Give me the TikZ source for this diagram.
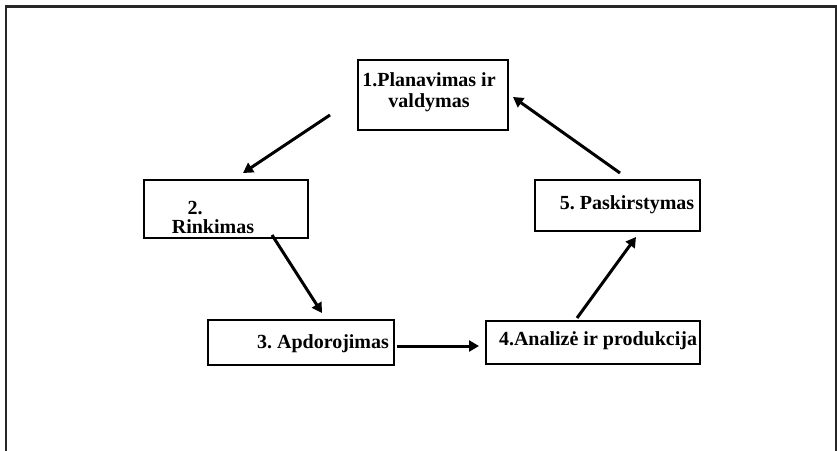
\documentclass[tikz,border=0pt]{standalone}
\usepackage{fontspec}
\setmainfont{Liberation Serif}
\usetikzlibrary{arrows.meta}
\begin{document}
\begin{tikzpicture}[x=1pt,y=-1pt,
  box/.style={draw=black,line width=1.6pt,inner sep=0pt,anchor=north west},
  lbl/.style={font=\fontsize{20}{20.5}\selectfont\bfseries\frenchspacing,inner sep=0pt,align=center},
  arr/.style={line width=3pt,-{Triangle[length=10pt,width=11pt]}}]
\useasboundingbox (0,0) rectangle (837,450);
\draw[line width=2.2pt,draw=black!85] (6,452) -- (6,6.5) -- (836,6.5) -- (836,452);
% boxes
\node[box,minimum width=150pt,minimum height=70pt] (b1) at (357,59) {};
\node[box,minimum width=164pt,minimum height=58pt] (b2) at (143,179) {};
\node[box,minimum width=186pt,minimum height=45pt] (b3) at (207,319) {};
\node[box,minimum width=214pt,minimum height=43pt] (b4) at (485,320) {};
\node[box,minimum width=165pt,minimum height=51pt] (b5) at (534,179) {};
% labels
\node[lbl] (t1) at (429,92) {1.Planavimas ir\\valdymas};
\node[lbl] (t2a) at (195,208) {2.};
\node[lbl] (t2b) at (213,227) {Rinkimas};
\node[lbl] (t3) at (323,344) {3. Apdorojimas};
\node[lbl] (t4) at (598,341) {4.Analizė ir produkcija};
\node[lbl] (t5) at (627,205) {5. Paskirstymas};
% arrow ends
\coordinate (a1s) at (330,115); \coordinate (a1e) at (243,173);
\coordinate (a2s) at (272,235); \coordinate (a2e) at (322,313);
\coordinate (a3s) at (397,346); \coordinate (a3e) at (479,346);
\coordinate (a4s) at (577,318); \coordinate (a4e) at (636,237);
\coordinate (a5s) at (620,173); \coordinate (a5e) at (513,97);
\draw[arr] (a1s) -- (a1e);
\draw[arr] (a2s) -- (a2e);
\draw[arr] (a3s) -- (a3e);
\draw[arr] (a4s) -- (a4e);
\draw[arr] (a5s) -- (a5e);
\end{tikzpicture}
\end{document}
